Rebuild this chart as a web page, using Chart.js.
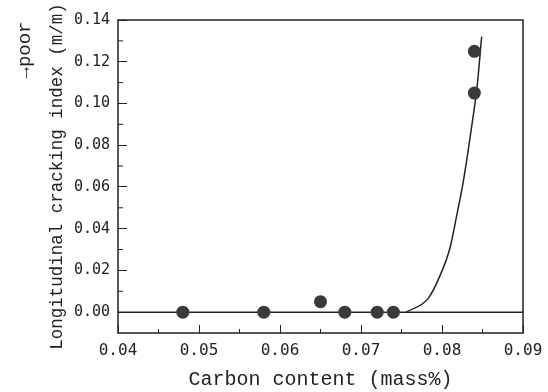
<!DOCTYPE html>
<html>
<head>
<meta charset="utf-8">
<script src="https://cdn.jsdelivr.net/npm/chart.js@4.4.0/dist/chart.umd.min.js"></script>
<style>
  body { margin: 0; background: #fff; }
  #wrap { width: 548px; height: 392px; }
</style>
</head>
<body>
<div id="wrap"><canvas id="myChart" width="548" height="392"></canvas></div>
<script>
// Measured samples
const carbon = [0.048, 0.058, 0.065, 0.068, 0.072, 0.074, 0.084, 0.084];
const crackIndex = [0, 0, 0.005, 0, 0, 0, 0.105, 0.125];

// Hand-drawn trend curve
const fitCarbon = [0.0756, 0.0783, 0.0797, 0.0810, 0.0818, 0.0826, 0.0831, 0.0837, 0.0843, 0.0849];
const fitIndex = [0, 0.0066, 0.017, 0.031, 0.046, 0.062, 0.074, 0.090, 0.107, 0.132];

// Zero baseline across the plot
const baseCarbon = [0.04, 0.09];
const baseIndex = [0, 0];

// Tick positions
const xTicks = [0.04, 0.05, 0.06, 0.07, 0.08, 0.09];
const yTicks = [0, 0.02, 0.04, 0.06, 0.08, 0.10, 0.12, 0.14];
const xMinor = [0.045, 0.055, 0.065, 0.075, 0.085];
const yMinor = [0.01, 0.03, 0.05, 0.07, 0.09, 0.11, 0.13];

const ink = '#222';
const toXY = (xs, ys) => xs.map((v, i) => ({ x: v, y: ys[i] }));

// Box frame, minor ticks and the "→poor" note
const frame = {
    id: 'frame',
    afterDraw(chart) {
        const { ctx, chartArea: a, scales: { x, y } } = chart;
        ctx.save();
        ctx.strokeStyle = ink;
        ctx.lineWidth = 1.5;
        ctx.strokeRect(a.left, a.top, a.right - a.left, a.bottom - a.top);
        ctx.lineWidth = 1;
        ctx.beginPath();
        xMinor.forEach(v => {
            const px = x.getPixelForValue(v);
            ctx.moveTo(px, a.bottom);
            ctx.lineTo(px, a.bottom - 4);
        });
        yMinor.forEach(v => {
            const py = y.getPixelForValue(v);
            ctx.moveTo(a.left, py);
            ctx.lineTo(a.left + 5, py);
        });
        ctx.stroke();
        ctx.translate(25, 50);
        ctx.rotate(-Math.PI / 2);
        ctx.font = '19px "Liberation Mono"';
        ctx.textAlign = 'center';
        ctx.textBaseline = 'middle';
        ctx.fillStyle = ink;
        ctx.fillText('→poor', 0, 0);
        ctx.restore();
    }
};

const ctx = document.getElementById('myChart').getContext('2d');

new Chart(ctx, {
    type: 'scatter',
    data: {
        datasets: [{
            data: toXY(carbon, crackIndex),
            pointRadius: 6.5,
            pointBackgroundColor: '#3a3a3a',
            pointBorderWidth: 0,
            showLine: false
        }, {
            data: toXY(fitCarbon, fitIndex),
            showLine: true,
            pointRadius: 0,
            borderColor: ink,
            borderWidth: 1.5,
            cubicInterpolationMode: 'monotone'
        }, {
            data: toXY(baseCarbon, baseIndex),
            showLine: true,
            pointRadius: 0,
            borderColor: ink,
            borderWidth: 1.5
        }]
    },
    options: {
        responsive: false,
        animation: false,
        layout: { padding: { top: 20, right: 25, left: 0, bottom: 0 } },
        plugins: {
            legend: { display: false },
            tooltip: { enabled: false }
        },
        scales: {
            x: {
                type: 'linear',
                min: 0.04,
                max: 0.09,
                afterBuildTicks: s => { s.ticks = xTicks.map(v => ({ value: v })); },
                afterFit: s => {
                    s.height = 59;
                    s.paddingLeft = 0;
                    s.paddingRight = 0;
                },
                border: { display: false },
                grid: { drawOnChartArea: false, drawTicks: true, tickLength: -8, tickColor: ink, tickWidth: 1 },
                ticks: {
                    padding: 16,
                    color: ink,
                    font: { family: '"DejaVu Sans Mono"', size: 16 },
                    callback: v => v.toFixed(2)
                },
                title: {
                    display: true,
                    text: 'Carbon content (mass%)',
                    color: ink,
                    font: { family: '"Liberation Mono"', size: 20 },
                    padding: { top: 0, bottom: 0 }
                }
            },
            y: {
                type: 'linear',
                min: -0.01,
                max: 0.14,
                afterBuildTicks: s => { s.ticks = yTicks.map(v => ({ value: v })); },
                afterFit: s => {
                    s.width = 118;
                    s.paddingTop = 0;
                    s.paddingBottom = 0;
                },
                border: { display: false },
                grid: { drawOnChartArea: false, drawTicks: true, tickLength: -9, tickColor: ink, tickWidth: 1 },
                ticks: {
                    padding: 17,
                    color: ink,
                    font: { family: '"DejaVu Sans Mono"', size: 15 },
                    callback: v => v.toFixed(2)
                },
                title: {
                    display: true,
                    text: 'Longitudinal cracking index (m/m)',
                    color: ink,
                    font: { family: '"Liberation Mono"', size: 17.5 },
                    padding: { top: 47, bottom: 0 }
                }
            }
        }
    },
    plugins: [frame]
});
</script>
</body>
</html>
